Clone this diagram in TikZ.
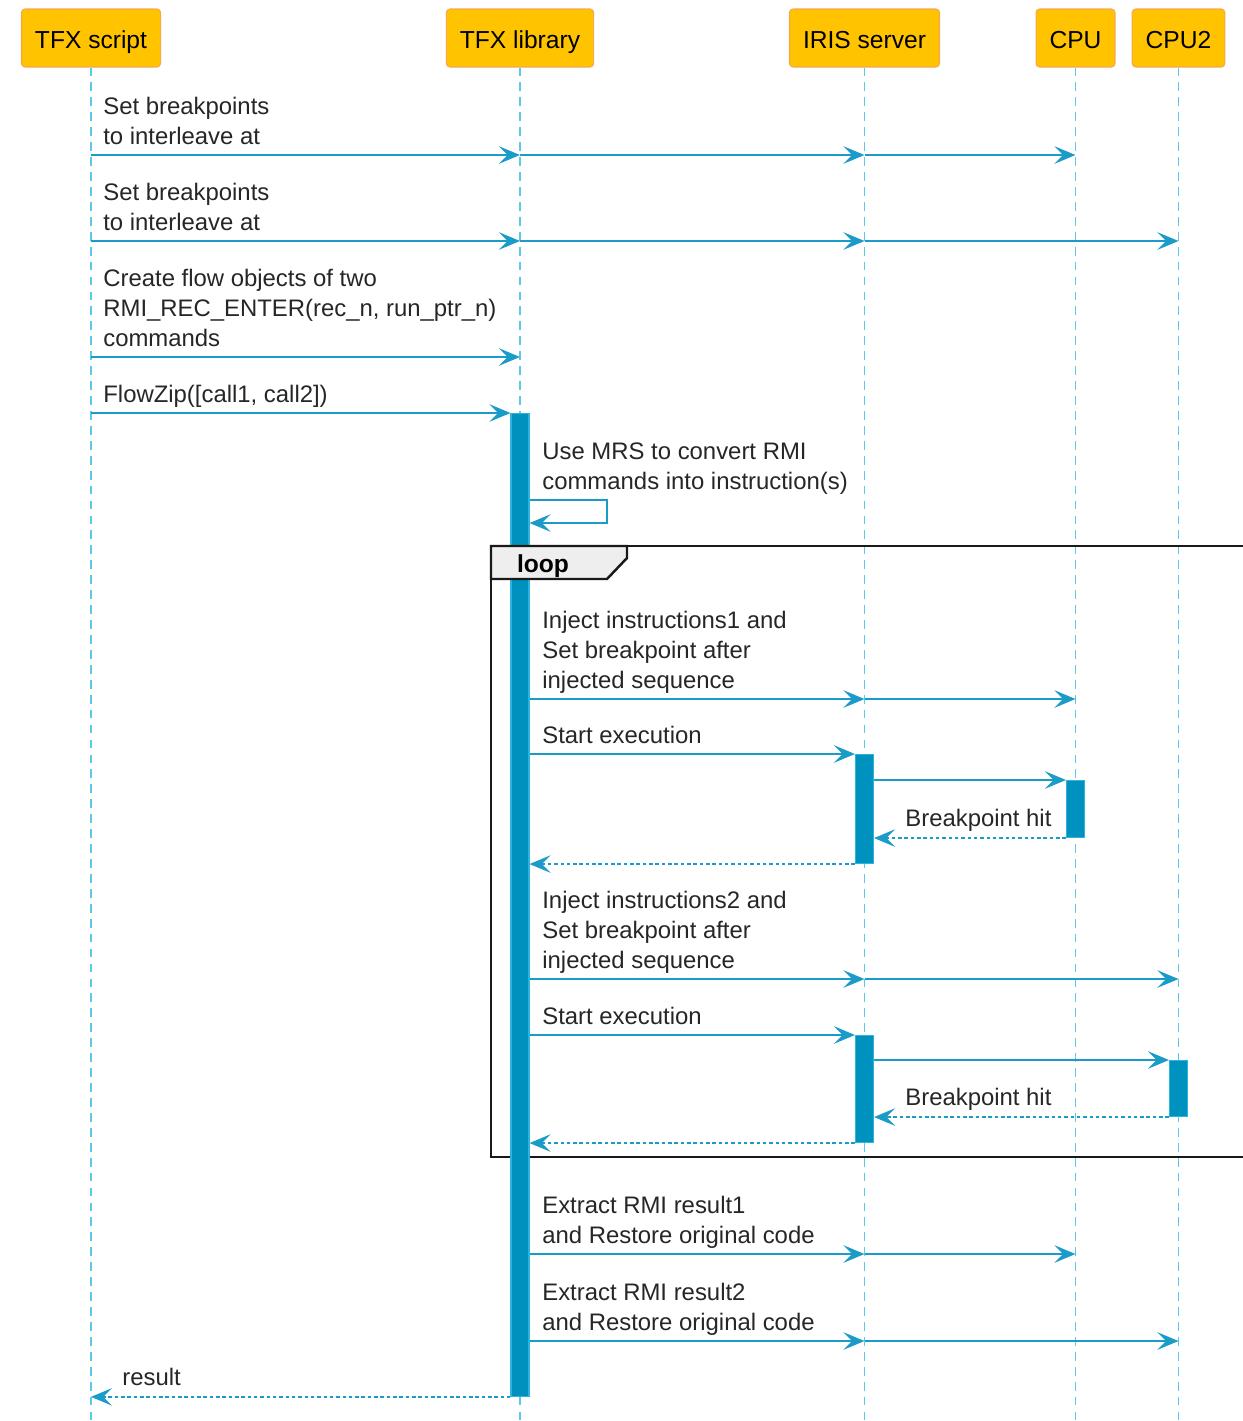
\documentclass[tikz,border=0pt]{standalone}
\usepackage{fontspec}
\setmainfont{Liberation Sans}
\usepackage{tikz}
\usetikzlibrary{arrows.meta}
\usepackage{xcolor}

\definecolor{hdrfill}{HTML}{FFC300}
\definecolor{hdrline}{HTML}{F7A84E}
\definecolor{lifecol}{HTML}{5CC8EA}
\definecolor{msgcol}{HTML}{1B9BC8}
\definecolor{barcol}{HTML}{0092BE}
\definecolor{barline}{HTML}{2DB4DE}
\definecolor{tabfill}{HTML}{EEEEEE}

\tikzset{
  hdr/.style={rectangle, rounded corners=2pt, fill=hdrfill, draw=hdrline, line width=0.6pt,
    minimum height=1.16cm, inner xsep=0.27cm, text height=12pt, text depth=0pt,
    font=\fontsize{14}{17}\selectfont},
  life/.style={draw=lifecol, line width=0.8pt, dash pattern=on 5pt off 3.5pt},
  msg/.style={->, draw=msgcol, line width=1.1pt},
  reply/.style={msg, dash pattern=on 2pt off 1.6pt},
  bar/.style={rectangle, fill=barcol, draw=barline, line width=0.6pt, minimum width=0.36cm, inner sep=0pt, anchor=north},
  lbl/.style={anchor=south west, align=left, inner sep=0pt, text=black!85,
    font=\fontsize{13.6}{17}\selectfont, execute at end node=\strut},
  frame/.style={draw=black!90, line width=1.4pt}
}

\begin{document}
\begin{tikzpicture}[x=0.02cm,y=-0.02cm,>={Stealth[length=12pt,width=10pt,inset=5pt]}]
    \useasboundingbox (0,0) rectangle (1242,1421);
    % participants
    \node[hdr] (scr) at (91,38) {TFX script};
    \node[hdr] (lib) at (520,38) {TFX library};
    \node[hdr] (iris) at (864.5,38) {IRIS server};
    \node[hdr] (cpu) at (1075.5,38) {CPU};
    \node[hdr] (cputwo) at (1178.5,38) {CPU2};
    \foreach \p in {scr,lib,iris,cpu,cputwo}
        \draw[life] (\p.south) -- (\p |- 0,1421);

    % loop frame
    \draw[frame] (1250,546) -- (491,546) -- (491,1157) -- (1250,1157);

    % activations
    \node[bar, minimum height=19.66cm] (barlib) at (lib |- 0,413) {};
    \node[bar, minimum height=2.18cm] (bariris) at (iris |- 0,754) {};
    \node[bar, minimum height=1.14cm] (barcpu) at (cpu |- 0,780) {};
    \node[bar, minimum height=2.14cm] (baristwo) at (iris |- 0,1035) {};
    \node[bar, minimum height=1.12cm] (barcputwo) at (cputwo |- 0,1060) {};

    % loop tag
    \draw[frame, fill=tabfill] (491,546) -- (627,546) -- (627,558) -- (607,579) -- (491,579) -- cycle;
    \node[font=\fontsize{14}{17}\selectfont\bfseries] (looptag) at (543,566) {loop};

    % set breakpoints
    \node[lbl] (m1) at (103,154) {Set breakpoints\\to interleave at};
    \foreach \a/\b in {scr/lib,lib/iris,iris/cpu}
        \draw[msg] (\a |- 0,155) -- (\b |- 0,155);
    \node[lbl] (m2) at (103,240) {Set breakpoints\\to interleave at};
    \foreach \a/\b in {scr/lib,lib/iris,iris/cputwo}
        \draw[msg] (\a |- 0,241) -- (\b |- 0,241);

    \node[lbl] (m3) at (103,356) {Create flow objects of two\\RMI\_REC\_ENTER(rec\_n, run\_ptr\_n)\\commands};
    \draw[msg] (scr |- 0,357) -- (lib |- 0,357);

    \node[lbl] (m4) at (103,412) {FlowZip([call1, call2])};
    \draw[msg] (scr |- barlib.north) -- (barlib.north west);

    % convert via MRS
    \node[lbl] (m5) at (542,499) {Use MRS to convert RMI\\commands into instruction(s)};
    \draw[msg] (barlib.east |- 0,500) -- (607,500) -- (607,523) -- (barlib.east |- 0,523);

    % first cpu
    \node[lbl] (m6) at (542,698) {Inject instructions1 and\\Set breakpoint after\\injected sequence};
    \draw[msg] (barlib.east |- 0,699) -- (iris |- 0,699);
    \draw[msg] (iris |- 0,699) -- (cpu |- 0,699);
    \node[lbl] (m7) at (542,753) {Start execution};
    \draw[msg] (barlib.east |- bariris.north) -- (bariris.north west);
    \draw[msg] (bariris.east |- barcpu.north) -- (barcpu.north west);
    \node[lbl] (m8) at (905,836) {Breakpoint hit};
    \draw[reply] (barcpu.south west) -- (bariris.east |- barcpu.south);
    \draw[reply] (bariris.south west) -- (barlib.east |- bariris.south);

    % second cpu
    \node[lbl] (m9) at (542,978) {Inject instructions2 and\\Set breakpoint after\\injected sequence};
    \draw[msg] (barlib.east |- 0,979) -- (iris |- 0,979);
    \draw[msg] (iris |- 0,979) -- (cputwo |- 0,979);
    \node[lbl] (m10) at (542,1034) {Start execution};
    \draw[msg] (barlib.east |- baristwo.north) -- (baristwo.north west);
    \draw[msg] (baristwo.east |- barcputwo.north) -- (barcputwo.north west);
    \node[lbl] (m11) at (905,1115) {Breakpoint hit};
    \draw[reply] (barcputwo.south west) -- (baristwo.east |- barcputwo.south);
    \draw[reply] (baristwo.south west) -- (barlib.east |- baristwo.south);

    % restore
    \node[lbl] (m12) at (542,1253) {Extract RMI result1\\and Restore original code};
    \draw[msg] (barlib.east |- 0,1254) -- (iris |- 0,1254);
    \draw[msg] (iris |- 0,1254) -- (cpu |- 0,1254);
    \node[lbl] (m13) at (542,1340) {Extract RMI result2\\and Restore original code};
    \draw[msg] (barlib.east |- 0,1341) -- (iris |- 0,1341);
    \draw[msg] (iris |- 0,1341) -- (cputwo |- 0,1341);

    \node[lbl] (m14) at (122,1395) {result};
    \draw[reply] (barlib.south west) -- (scr |- barlib.south);
\end{tikzpicture}
\end{document}
